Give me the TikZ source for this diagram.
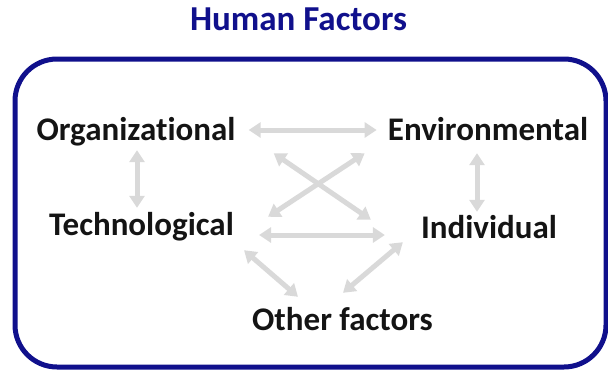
\documentclass[tikz,border=0pt]{standalone}
\usepackage{fontspec}
\setmainfont{Carlito}[Ligatures=NoCommon]
\usetikzlibrary{
  arrows.meta % For arrow tips
}
\definecolor{hfnavy}{RGB}{16,16,140}
\definecolor{hfgrey}{RGB}{217,217,217}

\begin{document}
\begin{tikzpicture}[
    x=1pt, y=-1pt, % Pixel units, y downwards
    factor/.style={font=\fontsize{33}{38}\selectfont\bfseries, text=black!92, inner sep=0pt, text height=22pt, text depth=6pt, anchor=base}, % Style for factor labels
    link/.style={hfgrey, line width=5pt, {Triangle[length=12pt,width=15pt]}-{Triangle[length=12pt,width=15pt]}}, % Style for double arrows
    frame/.style={hfnavy, line width=5pt, rounded corners=42pt}, % Style for the frame
  ]
  \useasboundingbox (0,0) rectangle (608,370);

  % Titel
  \node[factor, text=hfnavy, font=\fontsize{35}{40}\selectfont\bfseries] (title) at (298.5,30) {Human Factors};

  % Rahmen
  \draw[frame] (15,59) rectangle (606,367);

  % Faktoren
  \node[factor] (org) at (136,140) {Organizational};
  \node[factor] (env) at (488,140) {Environmental};
  \node[factor] (tech) at (141.5,235) {Technological};
  \node[factor] (ind) at (489,238) {Individual};
  \node[factor] (other) at (342.5,330) {Other factors};

  % Pfeile oben und senkrecht
  \draw[link] ([shift={(13,-2)}]org.east) -- ([shift={(-11,-2)}]env.west);
  \draw[link] ([shift={(1,4)}]org.south) -- ([shift={(-4.5,-5)}]tech.north);
  \draw[link] ([shift={(-11,7)}]env.south) -- ([shift={(-12,-4)}]ind.north);

  % Kreuz
  \draw[link] ([shift={(38,7)}]org.south east) -- ([shift={(-50,4)}]ind.north west);
  \draw[link] ([shift={(-23,7)}]env.south west) -- ([shift={(34,4)}]tech.north east);

  % Pfeile unten
  \draw[link] ([shift={(25,8)}]tech.east) -- ([shift={(-36,5)}]ind.west);
  \draw[link] ([shift={(10,9)}]tech.south east) -- ([shift={(46,-11)}]other.north west);
  \draw[link] ([shift={(-18,-2)}]ind.south west) -- ([shift={(0.5,-15)}]other.north);
\end{tikzpicture}
\end{document}
